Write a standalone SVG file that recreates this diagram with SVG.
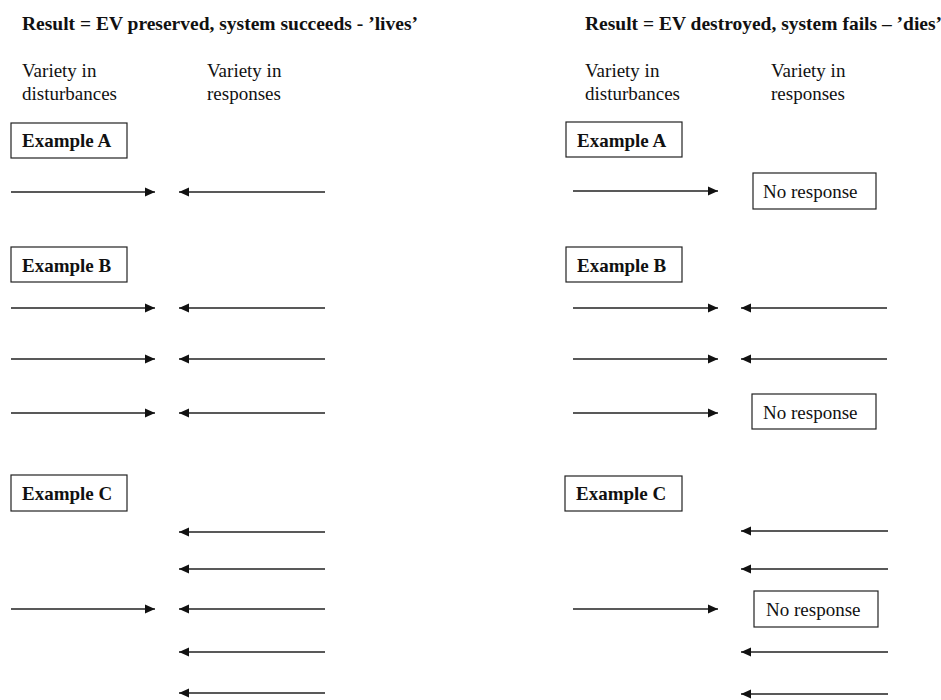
<svg xmlns="http://www.w3.org/2000/svg" width="941" height="700" viewBox="0 0 941 700">
  <style>
    text { font-family: "Liberation Serif", "Times New Roman", serif; font-size: 19px; fill: #111; }
    .b { font-weight: bold; }
    .t { font-size: 19.5px; }
    .box { fill: #fff; stroke: #222; stroke-width: 1.2; }
    .arr { stroke: #222; stroke-width: 1.3; fill: none; marker-end: url(#head); }
  </style>
  <defs>
    <marker id="head" markerUnits="userSpaceOnUse" markerWidth="11" markerHeight="10" refX="10" refY="5" orient="auto">
      <path d="M0,0.5 L10,5 L0,9.5 Z" fill="#111"/>
    </marker>
  </defs>
  <rect width="941" height="700" fill="#fff"/>

  <!-- Left panel: system lives -->
  <g id="title-lives"><text class="b t" x="22" y="30">Result = EV preserved, system succeeds - ’lives’</text></g>
  <g id="lbl-dist-left"><text x="22" y="77">Variety in</text><text x="22" y="100">disturbances</text></g>
  <g id="lbl-resp-left"><text x="207" y="77">Variety in</text><text x="207" y="100">responses</text></g>
  <g id="ex-a-left"><rect class="box" x="11" y="123" width="116" height="35"/><text class="b" x="22" y="147">Example A</text></g>
  <g id="ex-b-left"><rect class="box" x="11" y="247" width="116" height="35"/><text class="b" x="22" y="272">Example B</text></g>
  <g id="ex-c-left"><rect class="box" x="11" y="475" width="116" height="36"/><text class="b" x="22" y="500">Example C</text></g>

  <!-- Right panel: system dies -->
  <g id="title-dies"><text class="b t" x="585" y="30">Result = EV destroyed, system fails – ’dies’</text></g>
  <g id="lbl-dist-right"><text x="585" y="77">Variety in</text><text x="585" y="100">disturbances</text></g>
  <g id="lbl-resp-right"><text x="771" y="77">Variety in</text><text x="771" y="100">responses</text></g>
  <g id="ex-a-right"><rect class="box" x="566" y="122" width="116" height="35"/><text class="b" x="577" y="147">Example A</text></g>
  <g id="ex-b-right"><rect class="box" x="566" y="247" width="116" height="35"/><text class="b" x="577" y="272">Example B</text></g>
  <g id="ex-c-right"><rect class="box" x="565" y="476" width="117" height="35"/><text class="b" x="576" y="500">Example C</text></g>
  <g id="noresp-a"><rect class="box" x="753" y="173" width="123" height="36"/><text x="763" y="198">No response</text></g>
  <g id="noresp-b"><rect class="box" x="752" y="394" width="124" height="35"/><text x="763" y="419">No response</text></g>
  <g id="noresp-c"><rect class="box" x="754" y="591" width="124" height="36"/><text x="766" y="616">No response</text></g>

  <g id="connectors">
    <!-- left: example A -->
    <line class="arr" x1="11" y1="192" x2="155" y2="192"/>
    <line class="arr" x1="325" y1="192" x2="179" y2="192"/>
    <!-- left: example B -->
    <line class="arr" x1="11" y1="308" x2="155" y2="308"/>
    <line class="arr" x1="325" y1="308" x2="179" y2="308"/>
    <line class="arr" x1="11" y1="359" x2="155" y2="359"/>
    <line class="arr" x1="325" y1="359" x2="179" y2="359"/>
    <line class="arr" x1="11" y1="413" x2="155" y2="413"/>
    <line class="arr" x1="325" y1="413" x2="179" y2="413"/>
    <!-- left: example C -->
    <line class="arr" x1="325" y1="532" x2="179" y2="532"/>
    <line class="arr" x1="325" y1="569" x2="179" y2="569"/>
    <line class="arr" x1="11" y1="609" x2="155" y2="609"/>
    <line class="arr" x1="325" y1="609" x2="179" y2="609"/>
    <line class="arr" x1="325" y1="652" x2="179" y2="652"/>
    <line class="arr" x1="325" y1="693" x2="179" y2="693"/>
    <!-- right: example A -->
    <line class="arr" x1="573" y1="191" x2="718" y2="191"/>
    <!-- right: example B -->
    <line class="arr" x1="573" y1="308" x2="718" y2="308"/>
    <line class="arr" x1="887" y1="308" x2="741" y2="308"/>
    <line class="arr" x1="573" y1="359" x2="718" y2="359"/>
    <line class="arr" x1="887" y1="359" x2="741" y2="359"/>
    <line class="arr" x1="573" y1="413" x2="718" y2="413"/>
    <!-- right: example C -->
    <line class="arr" x1="888" y1="531" x2="741" y2="531"/>
    <line class="arr" x1="888" y1="569" x2="741" y2="569"/>
    <line class="arr" x1="573" y1="609" x2="718" y2="609"/>
    <line class="arr" x1="888" y1="652" x2="741" y2="652"/>
    <line class="arr" x1="888" y1="694" x2="741" y2="694"/>
  </g>
</svg>
